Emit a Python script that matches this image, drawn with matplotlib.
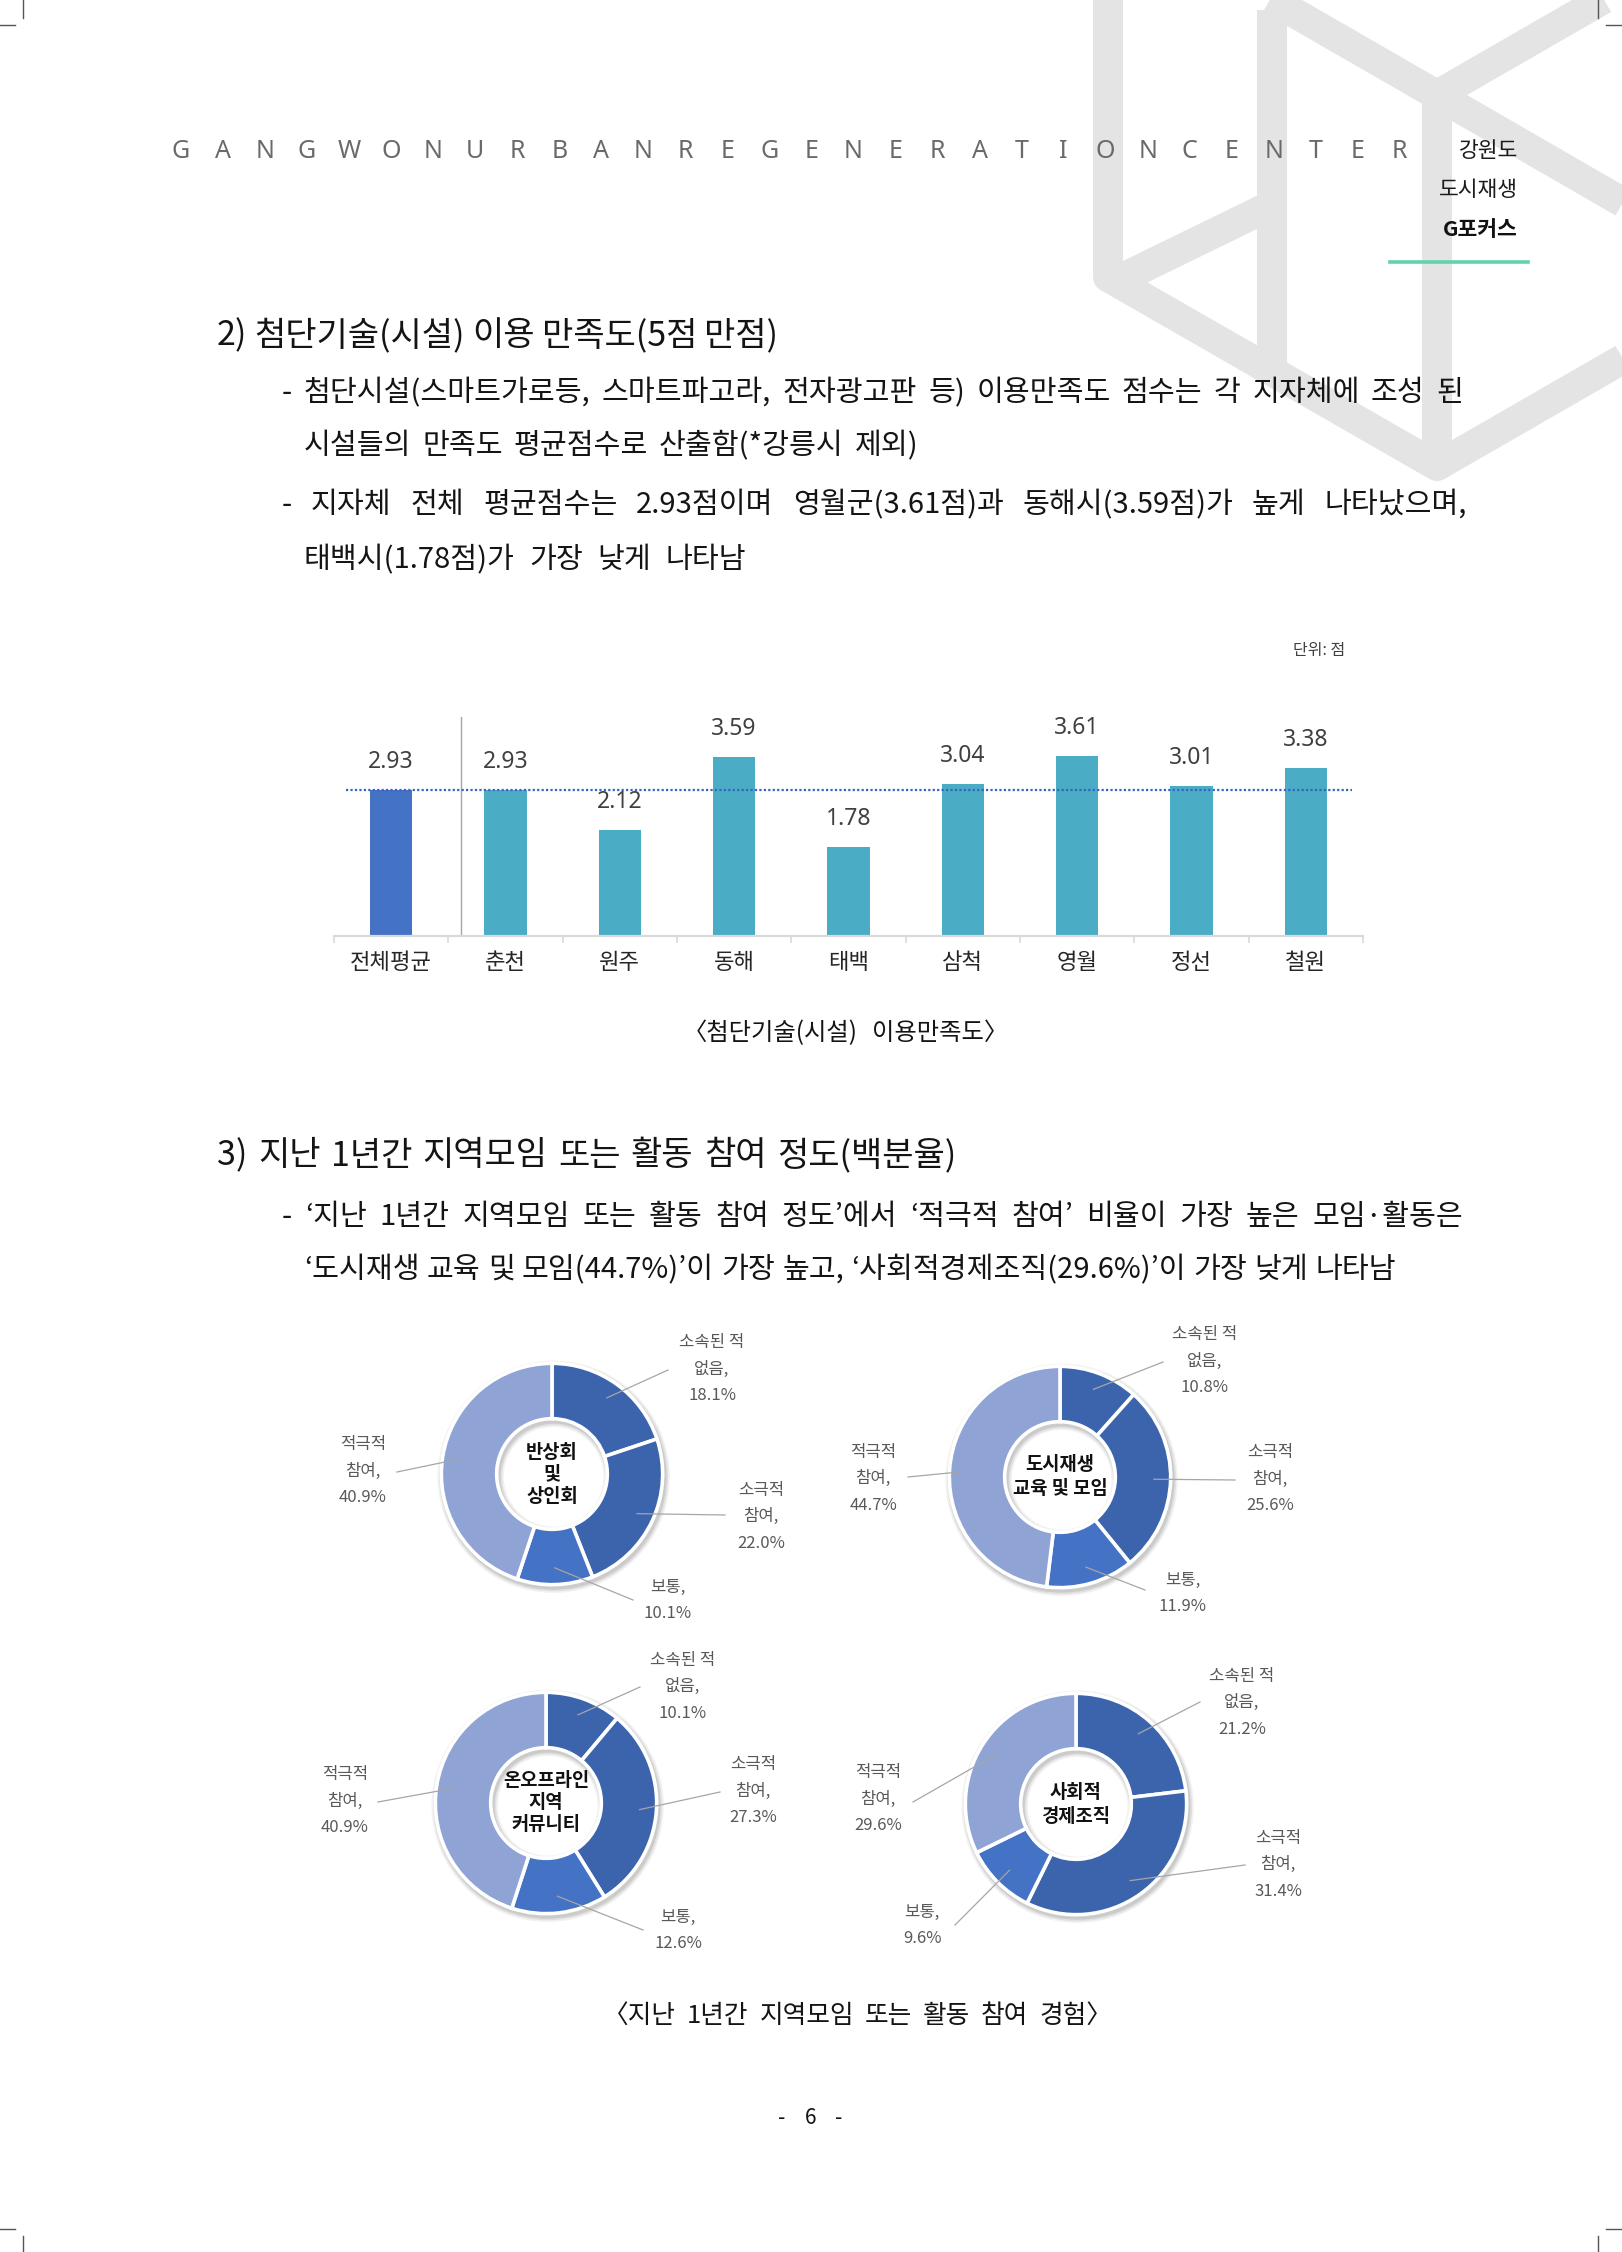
import matplotlib
matplotlib.use("Agg")
import matplotlib.pyplot as plt
from matplotlib.lines import Line2D
from matplotlib.patches import Wedge
import numpy as np

plt.rcParams['font.family'] = ['Noto Sans CJK KR', 'DejaVu Sans']
KF = ['Noto Sans CJK KR', 'DejaVu Sans']

# ---------------- data ----------------
bar_categories = ['전체평균', '춘천', '원주', '동해', '태백', '삼척', '영월', '정선', '철원']
bar_values = [2.93, 2.93, 2.12, 3.59, 1.78, 3.04, 3.61, 3.01, 3.38]
overall_avg = 2.93

donut_titles = [['반상회', '및', '상인회'],
                ['도시재생', '교육 및 모임'],
                ['온오프라인', '지역', '커뮤니티'],
                ['사회적', '경제조직']]
segment_names = [['소속된 적', '없음,'], ['소극적', '참여,'], ['보통,'], ['적극적', '참여,']]
donut_values = [[18.1, 22.0, 10.1, 40.9],
                [10.8, 25.6, 11.9, 44.7],
                [10.1, 27.3, 12.6, 40.9],
                [21.2, 31.4, 9.6, 29.6]]

# ---------------- page ----------------
W, H = 1622, 2252
fig = plt.figure(figsize=(W / 100, H / 100), dpi=100)
fig.patch.set_facecolor('white')
R = fig.canvas.get_renderer()


def fx(x):
    return x / W


def fy(y):
    return 1 - y / H


def T(x, y, s, **kw):
    kw.setdefault('family', KF)
    return fig.text(fx(x), fy(y), s, **kw)


def line(pts, **kw):
    xs = [fx(p[0]) for p in pts]
    ys = [fy(p[1]) for p in pts]
    ln = Line2D(xs, ys, transform=fig.transFigure, **kw)
    fig.add_artist(ln)
    return ln


def twidth(s, size, weight='normal'):
    t = fig.text(0, 0, s, fontsize=size, fontweight=weight, family=KF)
    w = t.get_window_extent(renderer=R).width
    t.remove()
    return w


def justify(s, x0, x1, y, size, weight='normal', color='#141414'):
    words = s.split(' ')
    ws = [twidth(w, size, weight) for w in words]
    gap = (x1 - x0 - sum(ws)) / (len(words) - 1) if len(words) > 1 else 0
    x = x0
    for w, wd in zip(words, ws):
        T(x, y, w, fontsize=size, fontweight=weight, color=color, ha='left', va='center')
        x += wd + gap


# watermark logo (light grey)
wm = dict(color='#e4e4e4', lw=21.6, solid_joinstyle='round', solid_capstyle='butt', zorder=0)
line([(1108, -30), (1108, 277), (1437, 466), (1720, 303)], **wm)
line([(1437, 466), (1437, 95)], **wm)
line([(1220, -30), (1437, 95), (1654, -30)], **wm)
line([(1437, 95), (1700, 247)], **wm)
line([(1272, 10), (1272, 380)], **wm)
line([(1108, 285), (1272, 205)], **wm)

# crop marks
cm = dict(color='#555555', lw=1.0)
line([(23, 0), (23, 18)], **cm)
line([(0, 25), (15, 25)], **cm)
line([(1598, 0), (1598, 18)], **cm)
line([(1606, 25), (1622, 25)], **cm)
line([(23, 2236), (23, 2252)], **cm)
line([(0, 2229), (15, 2229)], **cm)
line([(1598, 2236), (1598, 2252)], **cm)
line([(1606, 2229), (1622, 2229)], **cm)

# header
header = 'GANGWONURBANREGENERATIONCENTER'
for i, ch in enumerate(header):
    T(181 + i * 42.03, 152, ch, fontsize=18, color='#6a6a6a', ha='center', va='center',
      family=['Noto Sans', 'DejaVu Sans'], fontweight='normal')
T(1518, 151, '강원도', fontsize=15.5, color='#1a1a1a', ha='right', va='center')
T(1518, 190, '도시재생', fontsize=15.5, color='#1a1a1a', ha='right', va='center')
T(1518, 229, 'G포커스', fontsize=15.5, color='#111111', ha='right', va='center', fontweight='bold')
line([(1390, 262), (1528, 262)], color='#62d2ae', lw=2.6)

# section 2 text
TS, BS = 24.5, 21
justify('2) 첨단기술(시설) 이용 만족도(5점 만점)', 217, 778, 336, TS)
justify('- 첨단시설(스마트가로등, 스마트파고라, 전자광고판 등) 이용만족도 점수는 각 지자체에 조성 된',
        282, 1463, 393, BS)
justify('시설들의 만족도 평균점수로 산출함(*강릉시 제외)', 304, 918, 446, BS)
justify('- 지자체 전체 평균점수는 2.93점이며 영월군(3.61점)과 동해시(3.59점)가 높게 나타났으며,',
        282, 1467, 505, BS)
justify('태백시(1.78점)가 가장 낮게 나타남', 304, 746, 560, BS)

T(1345, 650, '단위: 점', fontsize=11.5, color='#404040', ha='right', va='center')

# ---------------- bar chart ----------------
ax_l, ax_r, ax_b = 334, 1363, 936
ymax = 4.4
unit = 49.85
ax_t = ax_b - ymax * unit
ax = fig.add_axes([fx(ax_l), fy(ax_b), (ax_r - ax_l) / W, (ax_b - ax_t) / H])
x = np.arange(len(bar_categories))
colors = ['#4472C4'] + ['#4BACC6'] * (len(bar_categories) - 1)
ax.bar(x, bar_values, width=0.37, color=colors, zorder=2)
ax.set_xlim(-0.5, len(bar_categories) - 0.5)
ax.set_ylim(0, ymax)
for s in ['top', 'right', 'left']:
    ax.spines[s].set_visible(False)
ax.spines['bottom'].set_color('#d9d9d9')
ax.spines['bottom'].set_linewidth(1.6)
ax.set_yticks([])
ax.set_xticks(x)
ax.set_xticklabels(bar_categories, fontsize=16, color='#262626', family=KF)
ax.tick_params(axis='x', length=0, pad=11)
ax.set_xticks(np.arange(-0.5, len(bar_categories), 1), minor=True)
ax.tick_params(axis='x', which='minor', length=5, width=1.2, color='#d9d9d9')
ax.axhline(overall_avg, xmin=0.012, xmax=0.989, color='#3a63c0', lw=1.6,
           linestyle=(0, (1, 1)), zorder=3)
ax.axvline(0.61, color='#a6a6a6', lw=1.0, zorder=1)
for xi, v in zip(x, bar_values):
    ax.annotate(f'{v:.2f}', (xi, v), xytext=(0, 28), textcoords='offset pixels',
                ha='center', va='center', fontsize=16.5, color='#404040',
                family=['Noto Sans', 'DejaVu Sans'])
ax.patch.set_alpha(0)

justify('〈첨단기술(시설) 이용만족도〉', 683, 1008, 1033, 17.5)

# section 3 text
justify('3) 지난 1년간 지역모임 또는 활동 참여 정도(백분율)', 217, 956, 1156, TS)
justify('- ‘지난 1년간 지역모임 또는 활동 참여 정도’에서 ‘적극적 참여’ 비율이 가장 높은 모임·활동은',
        282, 1463, 1217, BS)
justify('‘도시재생 교육 및 모임(44.7%)’이 가장 높고, ‘사회적경제조직(29.6%)’이 가장 낮게 나타남',
        304, 1396, 1270, BS)

# ---------------- donuts ----------------
donut_colors = ['#3B64AD', '#3B64AD', '#4472C4', '#8FA3D4']
centers = [(552, 1474), (1060, 1477), (546, 1803), (1076, 1804)]
r_out = 123.5
# label layout: (text center x, first line y, leader end x, leader end y)
label_layout = [
    [(712, 1343, 668, 1370), (761, 1490, 725, 1515), (668, 1587, 633, 1600), (363, 1445, 397, 1472)],
    [(1205, 1335, 1163, 1362), (1270, 1453, 1235, 1480), (1183, 1580, 1145, 1590), (873, 1452, 908, 1477)],
    [(683, 1660, 640, 1687), (753, 1765, 720, 1792), (678, 1917, 643, 1930), (345, 1775, 378, 1802)],
    [(1242, 1676, 1200, 1702), (1278, 1838, 1245, 1865), (922, 1912, 955, 1925), (878, 1773, 913, 1802)],
]
title_offsets = {3: [-22, 0, 22], 2: [-12, 12]}

for k, (vals, (cx, cy)) in enumerate(zip(donut_values, centers)):
    pad = 1.12
    half = r_out * pad
    dax = fig.add_axes([fx(cx - half), fy(cy + half), 2 * half / W, 2 * half / H])
    dax.set_xlim(-pad, pad)
    dax.set_ylim(-pad, pad)
    dax.set_aspect('equal')
    dax.axis('off')
    # soft shadow
    for dr, a in [(0.05, 0.05), (0.035, 0.07), (0.02, 0.09)]:
        dax.add_patch(Wedge((0.015, -0.025), 1 + dr, 0, 360, width=0.5 + 2 * dr,
                            facecolor='black', alpha=a, lw=0, zorder=0))
    wedges, _ = dax.pie(vals, colors=donut_colors, startangle=90, counterclock=False, radius=1,
                        wedgeprops=dict(width=0.5, edgecolor='white', linewidth=2.6))
    for w in wedges:
        w.set_zorder(2)
    # centre title
    tl = donut_titles[k]
    for ln_txt, off in zip(tl, title_offsets[len(tl)]):
        T(cx, cy + off, ln_txt, fontsize=13.5, fontweight='bold', color='#111111',
          ha='center', va='center')
    # labels + leaders
    for j, w in enumerate(wedges):
        th = np.deg2rad((w.theta1 + w.theta2) / 2)
        sx = cx + 0.76 * r_out * np.cos(th)
        sy = cy - 0.76 * r_out * np.sin(th)
        tx, ty, ex, ey = label_layout[k][j]
        line([(sx, sy), (ex, ey)], color='#a6a6a6', lw=0.9, zorder=5)
        lines = segment_names[j] + [f'{vals[j]:.1f}%']
        for m, s in enumerate(lines):
            T(tx, ty + m * 26.5, s, fontsize=12, color='#595959', ha='center', va='center')

justify('〈지난 1년간 지역모임 또는 활동 참여 경험〉', 603, 1112, 2016, 18.5)
T(782, 2118, '-', fontsize=15, color='#141414', ha='center', va='center')
T(811, 2118, '6', fontsize=15, color='#141414', ha='center', va='center')
T(839, 2118, '-', fontsize=15, color='#141414', ha='center', va='center')

fig.savefig('out.png', dpi=100)
